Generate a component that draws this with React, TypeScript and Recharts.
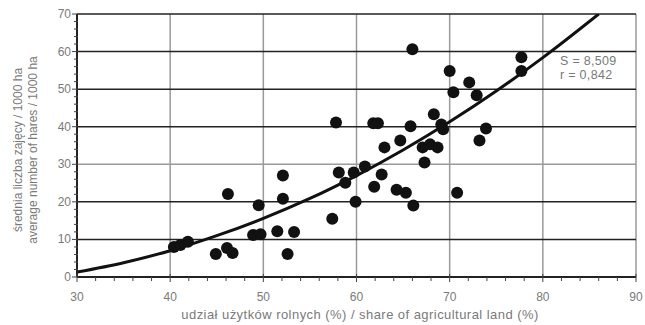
import React from 'react';
import { ComposedChart, Scatter, Line, XAxis, YAxis, ReferenceLine, Customized } from 'recharts';

// axis ticks (major ones get labels and grid lines)
const xMajor = [30, 40, 50, 60, 70, 80, 90];
const yMajor = [0, 10, 20, 30, 40, 50, 60, 70];
const xAllTicks = [30, 32, 34, 36, 38, 40, 42, 44, 46, 48, 50, 52, 54, 56, 58, 60, 62, 64, 66, 68, 70, 72, 74, 76, 78, 80, 82, 84, 86, 88, 90];
const yAllTicks = [0, 2, 4, 6, 8, 10, 12, 14, 16, 18, 20, 22, 24, 26, 28, 30, 32, 34, 36, 38, 40, 42, 44, 46, 48, 50, 52, 54, 56, 58, 60, 62, 64, 66, 68, 70];

// observations: share of agricultural land (%) vs hares / 1000 ha
const points = [
  { x: 40.4, y: 8.0 }, { x: 41.1, y: 8.5 }, { x: 41.9, y: 9.4 },
  { x: 44.9, y: 6.1 }, { x: 46.1, y: 7.7 }, { x: 46.7, y: 6.4 },
  { x: 46.2, y: 22.1 }, { x: 48.9, y: 11.2 }, { x: 49.7, y: 11.4 },
  { x: 49.5, y: 19.1 }, { x: 51.5, y: 12.2 }, { x: 52.1, y: 27.0 },
  { x: 52.1, y: 20.8 }, { x: 52.6, y: 6.1 }, { x: 53.3, y: 12.0 },
  { x: 57.4, y: 15.5 }, { x: 57.8, y: 41.1 }, { x: 58.1, y: 27.8 },
  { x: 58.8, y: 25.1 }, { x: 59.7, y: 27.8 }, { x: 59.9, y: 20.0 },
  { x: 60.9, y: 29.4 }, { x: 61.8, y: 40.9 }, { x: 62.3, y: 40.9 },
  { x: 61.9, y: 24.0 }, { x: 62.7, y: 27.3 }, { x: 63.0, y: 34.5 },
  { x: 64.3, y: 23.2 }, { x: 64.7, y: 36.3 }, { x: 65.3, y: 22.4 },
  { x: 65.8, y: 40.1 }, { x: 66.0, y: 60.6 }, { x: 66.1, y: 19.0 },
  { x: 67.1, y: 34.5 }, { x: 67.3, y: 30.5 }, { x: 67.9, y: 35.3 },
  { x: 68.3, y: 43.3 }, { x: 68.7, y: 34.5 }, { x: 69.1, y: 40.6 },
  { x: 69.3, y: 39.3 }, { x: 70.0, y: 54.8 }, { x: 70.4, y: 49.2 },
  { x: 70.8, y: 22.4 }, { x: 72.1, y: 51.8 }, { x: 72.9, y: 48.4 },
  { x: 73.2, y: 36.3 }, { x: 73.9, y: 39.5 }, { x: 77.7, y: 58.5 },
  { x: 77.7, y: 54.8 },
];

// fitted regression curve
const curve = [
  { x: 30, y: 1.3 }, { x: 35, y: 3.8 }, { x: 40, y: 7.0 }, { x: 45, y: 11.0 },
  { x: 50, y: 15.6 }, { x: 55, y: 20.9 }, { x: 60, y: 27.0 }, { x: 65, y: 33.8 },
  { x: 70, y: 41.3 }, { x: 75, y: 49.5 }, { x: 80, y: 58.4 }, { x: 86, y: 70.0 },
];

const font = '"Liberation Sans", Arial, sans-serif';
const textGray = '#7a7a7a';

const XTick = ({ x, y, payload }: any) => {
  const major = xMajor.includes(payload.value);
  return (
    <g>
      <line x1={x} x2={x} y1={major ? y - 3 : y} y2={y + (major ? 5 : 4)} stroke="#444" strokeWidth={1} />
      {major && (
        <text x={x} y={y + 24} textAnchor="middle" fill={textGray} fontSize={12} fontFamily={font}>
          {payload.value}
        </text>
      )}
    </g>
  );
};

const YTick = ({ x, y, payload }: any) => {
  const major = yMajor.includes(payload.value);
  return (
    <g>
      <line x1={x - (major ? 5 : 3)} x2={x + 1} y1={y} y2={y} stroke="#444" strokeWidth={1} />
      {major && (
        <text x={x - 6} y={y + 4} textAnchor="end" fill={textGray} fontSize={12} fontFamily={font}>
          {payload.value}
        </text>
      )}
    </g>
  );
};

const Labels = () => (
  <g fontFamily={font} fill={textGray}>
    <text transform="translate(22,150) rotate(-90)" textAnchor="middle" fontSize={12}>
      średnia liczba zajęcy / 1000 ha
    </text>
    <text transform="translate(37,150) rotate(-90)" textAnchor="middle" fontSize={12}>
      average number of hares  / 1000 ha
    </text>
    <text x={360} y={319} textAnchor="middle" fontSize={13} letterSpacing={0.45}>
      udział użytków rolnych (%) / share of agricultural land (%)
    </text>
    <text x={560} y={65} fontSize={12.5} letterSpacing={0.3}>S = 8,509</text>
    <text x={560} y={79} fontSize={12.5} letterSpacing={0.3}>r = 0,842</text>
  </g>
);

export default function App() {
  return (
    <div style={{ position: 'absolute', left: 0, top: 0, width: 645, height: 325, background: '#fff' }}>
      <ComposedChart width={645} height={325} margin={{ top: 14, right: 9, left: 0, bottom: 0 }} style={{ overflow: 'visible' }}>
        <XAxis
          type="number"
          dataKey="x"
          domain={[30, 90]}
          ticks={xAllTicks}
          interval={0}
          tick={<XTick />}
          tickSize={0}
          tickMargin={0}
          tickLine={false}
          axisLine={{ stroke: '#222', strokeWidth: 2 }}
          height={48}
          allowDataOverflow
        />
        <YAxis
          type="number"
          dataKey="y"
          domain={[0, 70]}
          ticks={yAllTicks}
          interval={0}
          tick={<YTick />}
          tickSize={0}
          tickMargin={0}
          tickLine={false}
          axisLine={{ stroke: '#222', strokeWidth: 2 }}
          width={77}
          allowDataOverflow
        />
        {xMajor.filter((v) => v !== 30).map((v) => (
          <ReferenceLine key={'vx' + v} x={v} stroke="#9a9a9a" strokeWidth={1.5} />
        ))}
        {yMajor.filter((v) => v !== 0).map((v) => (
          <ReferenceLine key={'hy' + v} y={v} stroke={v === 30 ? '#9a9a9a' : '#222'} strokeWidth={1.5} />
        ))}
        <Scatter
          data={points}
          isAnimationActive={false}
          shape={(p: any) => <circle cx={p.cx} cy={p.cy} r={6} fill="#111" />}
        />
        <Line
          data={curve}
          dataKey="y"
          type="monotone"
          stroke="#111"
          strokeWidth={3}
          dot={false}
          activeDot={false}
          isAnimationActive={false}
        />
        <Customized component={Labels} />
      </ComposedChart>
    </div>
  );
}
